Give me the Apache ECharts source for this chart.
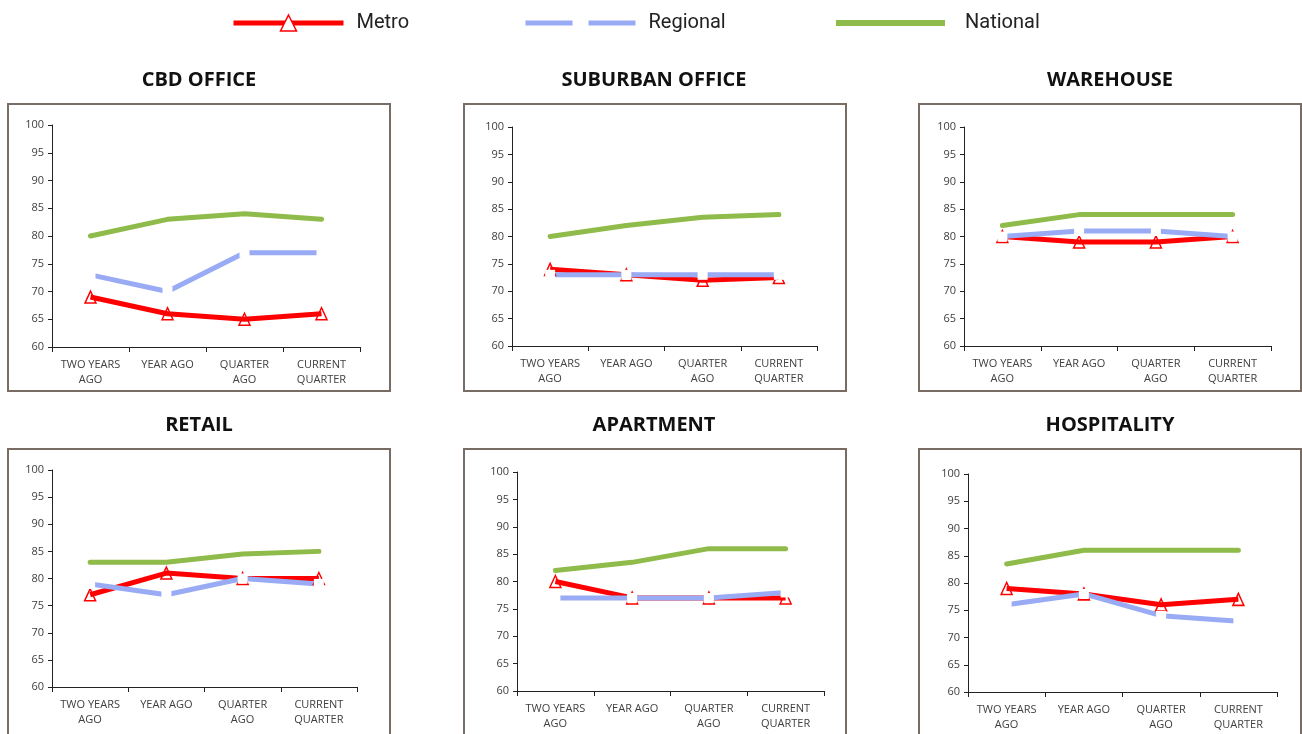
<!DOCTYPE html>
<html>
<head>
<meta charset="utf-8">
<script src="https://cdn.jsdelivr.net/npm/echarts@6/dist/echarts.min.js"></script>
<style>
html,body{margin:0;padding:0;background:#fff;}
#chart{width:1302px;height:734px;}
</style>
</head>
<body>
<div id="chart"></div>
<script>
// ---- data ----
const categories = ['TWO YEARS\nAGO', 'YEAR AGO', 'QUARTER\nAGO', 'CURRENT\nQUARTER'];
const seriesNames = ['Metro', 'Regional', 'National'];
const panelTitles = ['CBD OFFICE', 'SUBURBAN OFFICE', 'WAREHOUSE', 'RETAIL', 'APARTMENT', 'HOSPITALITY'];
const yMin = 60, yMax = 100, yStep = 5;

const cbdMetro = [69, 66, 65, 66];
const cbdRegional = [73, 70, 77, 77];
const cbdNational = [80, 83, 84, 83];

const suburbanMetro = [74, 73, 72, 72.5];
const suburbanRegional = [73, 73, 73, 73];
const suburbanNational = [80, 82, 83.5, 84];

const warehouseMetro = [80, 79, 79, 80];
const warehouseRegional = [80, 81, 81, 80];
const warehouseNational = [82, 84, 84, 84];

const retailMetro = [77, 81, 80, 80];
const retailRegional = [79, 77, 80, 79];
const retailNational = [83, 83, 84.5, 85];

const apartmentMetro = [80, 77, 77, 77];
const apartmentRegional = [77, 77, 77, 78];
const apartmentNational = [82, 83.5, 86, 86];

const hospitalityMetro = [79, 78, 76, 77];
const hospitalityRegional = [76, 78, 74, 73];
const hospitalityNational = [83.5, 86, 86, 86];

const panelData = [
  [cbdMetro, cbdRegional, cbdNational],
  [suburbanMetro, suburbanRegional, suburbanNational],
  [warehouseMetro, warehouseRegional, warehouseNational],
  [retailMetro, retailRegional, retailNational],
  [apartmentMetro, apartmentRegional, apartmentNational],
  [hospitalityMetro, hospitalityRegional, hospitalityNational]
];

// ---- layout / style ----
const RED = '#ff0000', BLUE = '#99abf4', GREEN = '#8fbb4a', FRAME = '#786c64';
const gridBoxes = [
  {left: 52, top: 125, width: 308, height: 222},
  {left: 512, top: 127, width: 305, height: 219},
  {left: 964, top: 127, width: 307, height: 219},
  {left: 52, top: 470, width: 305, height: 217},
  {left: 517, top: 472, width: 307, height: 219},
  {left: 968, top: 474, width: 309, height: 218}
];
const frames = [
  [8, 104, 382, 287], [464, 104, 382, 287], [919, 104, 382, 287],
  [8, 449, 382, 300], [464, 449, 382, 300], [919, 449, 382, 300]
];
const titlePos = [[199, 70], [654, 70], [1110, 70], [199, 415], [654, 415], [1110, 415]];

const grids = [], xAxes = [], yAxes = [], series = [], titles = [], graphics = [];
frames.forEach(f => graphics.push({
  type: 'rect', z: -10,
  shape: {x: f[0], y: f[1], width: f[2], height: f[3]},
  style: {fill: 'none', stroke: FRAME, lineWidth: 2}
}));

panelTitles.forEach((t, i) => {
  titles.push({
    text: t, left: titlePos[i][0], top: titlePos[i][1], textAlign: 'center',
    padding: 0,
    textStyle: {fontFamily: 'Open Sans', fontWeight: 'bold', fontSize: 20, color: '#111'}
  });
  grids.push(Object.assign({containLabel: false}, gridBoxes[i]));
  xAxes.push({
    type: 'category', gridIndex: i, data: categories, boundaryGap: true,
    axisLine: {lineStyle: {color: '#222', width: 1}},
    axisTick: {show: true, length: 5, inside: false, lineStyle: {color: '#222'}},
    axisLabel: {interval: 0, margin: 10, fontFamily: 'Open Sans', fontSize: 11, lineHeight: 15, color: '#404040'},
    splitLine: {show: false}
  });
  yAxes.push({
    type: 'value', gridIndex: i, min: yMin, max: yMax, interval: yStep,
    axisLine: {show: true, lineStyle: {color: '#222', width: 1}},
    axisTick: {show: true, length: 4, lineStyle: {color: '#222'}},
    axisLabel: {margin: 8, fontFamily: 'Open Sans', fontSize: 11, color: '#404040'},
    splitLine: {show: false}
  });
  const [m, r, n] = panelData[i];
  series.push({
    name: seriesNames[0], type: 'line', xAxisIndex: i, yAxisIndex: i, data: m,
    symbol: 'triangle', symbolSize: [11, 12], animation: false,
    lineStyle: {color: RED, width: 5},
    itemStyle: {color: 'rgba(255,255,255,0)', borderColor: RED, borderWidth: 1.5}
  });
  series.push({
    name: seriesNames[1], type: 'line', xAxisIndex: i, yAxisIndex: i, data: r,
    symbol: 'rect', symbolSize: 10, animation: false,
    lineStyle: {color: BLUE, width: 5},
    itemStyle: {color: '#ffffff', borderWidth: 0}
  });
  series.push({
    name: seriesNames[2], type: 'line', xAxisIndex: i, yAxisIndex: i, data: n,
    symbol: 'none', animation: false,
    lineStyle: {color: GREEN, width: 5, cap: 'round', join: 'round'},
    itemStyle: {color: GREEN}
  });
});

const legendText = {fontFamily: 'Roboto', fontSize: 20, color: '#222'};
const legends = [
  {data: [seriesNames[0]], left: 231, top: 13, itemWidth: 110, itemHeight: 20,
   lineStyle: {width: 5}, itemStyle: {color: '#ffffff', borderColor: RED, borderWidth: 1.5},
   textStyle: Object.assign({padding: [0, 0, 0, 8]}, legendText)},
  {data: [seriesNames[1]], left: 523, top: 13, itemWidth: 110, itemHeight: 20,
   lineStyle: {width: 5}, itemStyle: {color: '#ffffff', borderWidth: 0},
   textStyle: Object.assign({padding: [0, 0, 0, 8]}, legendText)},
  {data: [{name: seriesNames[2], icon: 'rect'}], left: 836, top: 13, itemWidth: 109, itemHeight: 6,
   itemStyle: {color: GREEN},
   textStyle: Object.assign({padding: [0, 0, 0, 15]}, legendText)}
];
legends.forEach(l => { l.selectedMode = false; l.padding = 0; l.orient = 'horizontal'; });

const chart = echarts.init(document.getElementById('chart'), null, {renderer: 'canvas'});
chart.setOption({
  backgroundColor: '#ffffff',
  animation: false,
  title: titles,
  legend: legends,
  grid: grids,
  xAxis: xAxes,
  yAxis: yAxes,
  series: series,
  graphic: graphics
});
</script>
</body>
</html>
